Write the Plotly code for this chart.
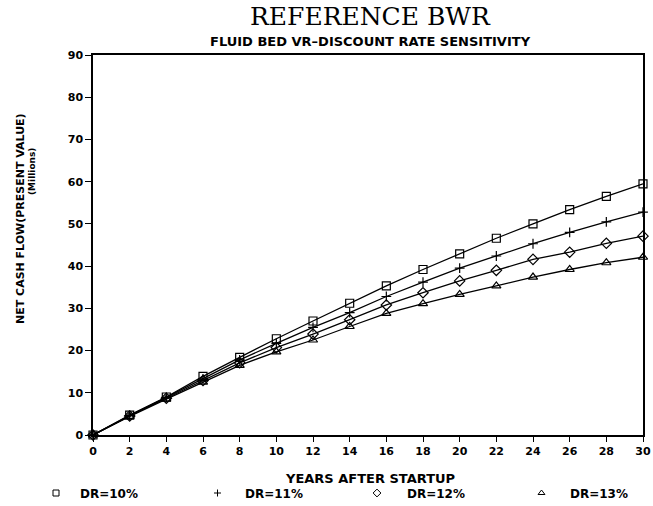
import plotly.graph_objects as go

years = [0, 2, 4, 6, 8, 10, 12, 14, 16, 18, 20, 22, 24, 26, 28, 30]
dr10 = [0, 4.7, 9.0, 13.9, 18.4, 22.8, 27.0, 31.2, 35.3, 39.2, 42.9, 46.6, 50.0, 53.4, 56.5, 59.5]
dr11 = [0, 4.6, 8.9, 13.3, 17.8, 21.7, 25.5, 29.0, 32.8, 36.2, 39.5, 42.4, 45.3, 48.0, 50.5, 52.8]
dr12 = [0, 4.5, 8.7, 12.9, 17.1, 20.7, 23.9, 27.3, 30.8, 33.7, 36.5, 39.0, 41.6, 43.3, 45.4, 47.1]
dr13 = [0, 4.4, 8.5, 12.5, 16.5, 19.7, 22.5, 25.7, 28.8, 31.1, 33.3, 35.3, 37.4, 39.2, 40.8, 42.1]

series = [
    ("DR=10%", dr10, "square-open", 8),
    ("DR=11%", dr11, "cross-thin-open", 7),
    ("DR=12%", dr12, "diamond-open", 8),
    ("DR=13%", dr13, "triangle-up-open", 8),
]
legend_px = [54, 212, 369, 535]  # symbol x positions (px)
legend_gap = [38, 45, 50, 47]    # symbol-to-text spacing

SANS = "DejaVu Sans, Verdana, sans-serif"
BOLD = dict(family=SANS, color="black", weight="bold")

L, R, T, B = 93, 10, 55, 71
W, H = 653, 506
PW, PH = W - L - R, H - T - B


def px_x(x):
    return (x - L) / PW


def px_y(y):
    return (H - B - y) / PH


fig = go.Figure()
for name, vals, sym, sz in series:
    fig.add_trace(go.Scatter(
        x=years, y=vals, mode="lines+markers", showlegend=False,
        line=dict(color="black", width=1.3),
        marker=dict(symbol=sym, size=sz, color="black", line=dict(color="black", width=1.2)),
        cliponaxis=False,
    ))

legend_keys = ["legend", "legend2", "legend3", "legend4"]
for (name, vals, sym, sz), key in zip(series, legend_keys):
    fig.add_trace(go.Scatter(
        x=[None], y=[None], mode="markers", name=name, showlegend=True, legend=key,
        marker=dict(symbol=sym, size=sz - 2, color="black", line=dict(color="black", width=1)),
    ))

legend_layout = {}
for key, sx, gap in zip(legend_keys, legend_px, legend_gap):
    legend_layout[key] = dict(
        orientation="h", x=px_x(sx - 22), y=px_y(493), xanchor="left", yanchor="middle",
        font=dict(size=12, **BOLD), bgcolor="rgba(0,0,0,0)", itemwidth=gap,
    )

fig.update_layout(
    width=W, height=H,
    margin=dict(l=L, r=R, t=T, b=B, autoexpand=False),
    paper_bgcolor="white", plot_bgcolor="white",
    showlegend=True,
    **legend_layout,
    xaxis=dict(range=[0, 30], tickmode="array", tickvals=years, ticks="outside", ticklen=5,
               tickcolor="black", tickwidth=1.2, showgrid=False, zeroline=False,
               showline=True, linecolor="black", linewidth=1.5, mirror=True,
               tickfont=dict(size=11, **BOLD)),
    yaxis=dict(range=[0, 90], tickmode="array", tickvals=[0, 10, 20, 30, 40, 50, 60, 70, 80, 90],
               ticks="outside", ticklen=6, tickcolor="black", tickwidth=1.2,
               showgrid=False, zeroline=False,
               showline=True, linecolor="black", linewidth=1.5, mirror=True,
               tickfont=dict(size=11, **BOLD)),
    annotations=[
        dict(text="REFERENCE BWR", xref="paper", yref="paper", x=px_x(370), y=px_y(17),
             showarrow=False, xanchor="center", yanchor="middle",
             font=dict(family="DejaVu Serif, Liberation Serif, serif", size=25, color="black")),
        dict(text="FLUID BED VR\u2013DISCOUNT RATE SENSITIVITY", xref="paper", yref="paper",
             x=px_x(370), y=px_y(41), showarrow=False, xanchor="center", yanchor="middle",
             font=dict(size=13, **BOLD)),
        dict(text="YEARS AFTER STARTUP", xref="paper", yref="paper",
             x=px_x(370), y=px_y(479), showarrow=False, xanchor="center", yanchor="middle",
             font=dict(size=13, **BOLD)),
        dict(text="NET CASH FLOW(PRESENT VALUE)", xref="paper", yref="paper", textangle=-90,
             x=px_x(20), y=px_y(219), showarrow=False, xanchor="center", yanchor="middle",
             font=dict(size=11, **BOLD)),
        dict(text="(Millions)", xref="paper", yref="paper", textangle=-90,
             x=px_x(32), y=px_y(172), showarrow=False, xanchor="center", yanchor="middle",
             font=dict(size=9, **BOLD)),
    ],
)

fig.write_html("out.html")
